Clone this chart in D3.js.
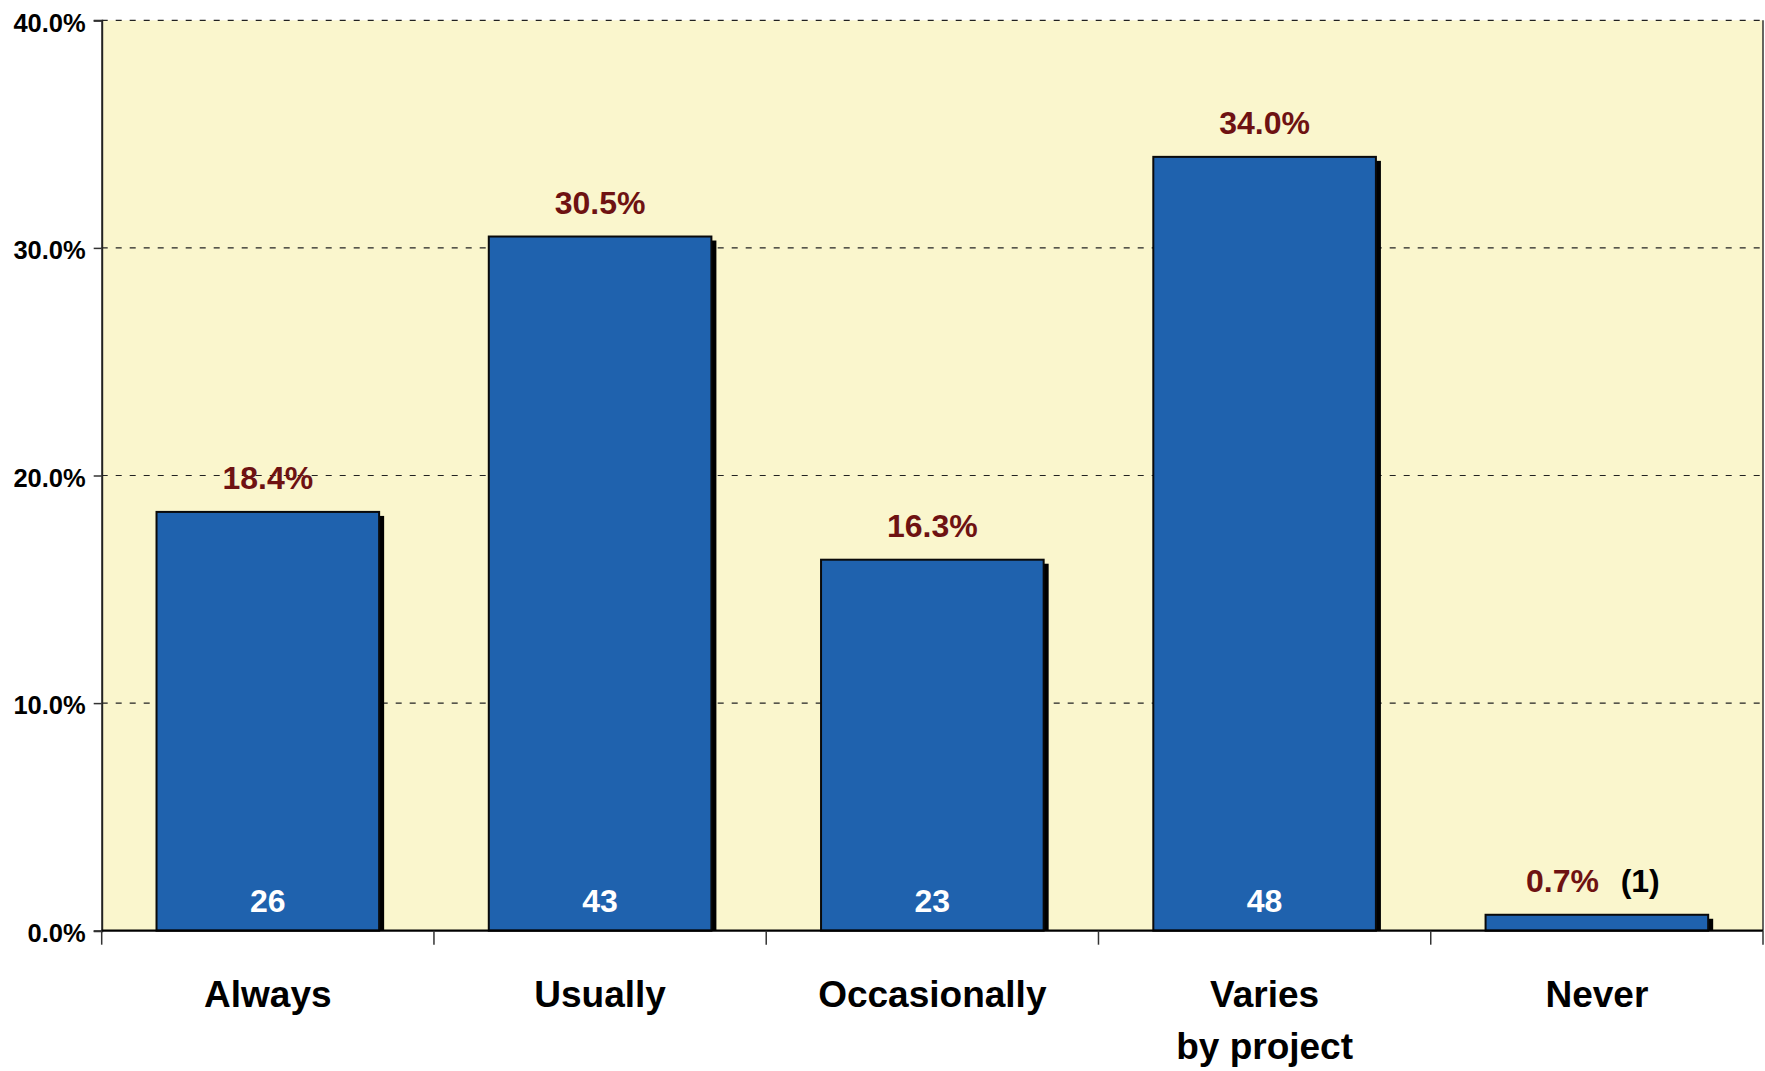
<!DOCTYPE html>
<html>
<head>
<meta charset="utf-8">
<script src="https://cdn.jsdelivr.net/npm/d3@7"></script>
<style>
  html, body { margin: 0; padding: 0; background: #ffffff; }
  svg { display: block; font-family: "Liberation Sans", Arial, sans-serif; }
</style>
</head>
<body>
<svg id="chart" width="1765" height="1071"></svg>
<script>
const categories = [["Always"], ["Usually"], ["Occasionally"], ["Varies", "by project"], ["Never"]];
const percents = [18.4, 30.5, 16.3, 34.0, 0.7];
const counts = [26, 43, 23, 48, 1];
const yTicks = [0, 10, 20, 30, 40];

const svg = d3.select("#chart");
const mLeft = 101.7, mRight = 1763, mTop = 20.3, mBottom = 930.7;

const x = d3.scaleBand().domain(d3.range(categories.length)).range([mLeft, mRight]).padding(0);
const y = d3.scaleLinear().domain([0, 40]).range([mBottom, mTop]);
const barW = x.bandwidth() * 0.67;

// plot background
svg.append("rect").attr("x", mLeft).attr("y", mTop).attr("width", mRight - mLeft).attr("height", mBottom - mTop)
  .attr("fill", "#FAF6CD");

// gridlines
svg.append("g").selectAll("line").data(yTicks.filter(d => d > 0)).join("line")
  .attr("x1", mLeft).attr("x2", mRight).attr("y1", d => y(d)).attr("y2", d => y(d))
  .attr("stroke", "#222").attr("stroke-width", 1.2).attr("stroke-dasharray", "6,8");

// right border
svg.append("line").attr("x1", mRight).attr("x2", mRight).attr("y1", mTop).attr("y2", mBottom)
  .attr("stroke", "#333").attr("stroke-width", 1.5);

// bars: shadow then bar
const bars = svg.append("g");
bars.selectAll("rect.shadow").data(percents).join("rect").attr("class", "shadow")
  .attr("x", (d, i) => x(i) + (x.bandwidth() - barW) / 2 + 5)
  .attr("y", d => y(d) + 4)
  .attr("width", barW)
  .attr("height", d => mBottom - y(d) - 4)
  .attr("fill", "#000");
bars.selectAll("rect.bar").data(percents).join("rect").attr("class", "bar")
  .attr("x", (d, i) => x(i) + (x.bandwidth() - barW) / 2)
  .attr("y", d => y(d))
  .attr("width", barW)
  .attr("height", d => mBottom - y(d))
  .attr("fill", "#1F62AE").attr("stroke", "#0a0a0a").attr("stroke-width", 2);

// y axis
const yAxis = svg.append("g").attr("transform", `translate(${mLeft},0)`)
  .call(d3.axisLeft(y).tickValues(yTicks).tickSize(8).tickPadding(8).tickFormat(d => d3.format(".1f")(d) + "%"));
yAxis.select(".domain").attr("stroke", "#222").attr("stroke-width", 2);
yAxis.selectAll(".tick line").attr("stroke", "#333").attr("stroke-width", 1.5);
yAxis.selectAll(".tick text").attr("font-size", 25.5).attr("font-weight", "bold").attr("fill", "#000")
  .attr("font-family", "Liberation Sans, Arial, sans-serif").attr("dy", "0.42em");

// x axis line + ticks at boundaries
svg.append("line").attr("x1", mLeft).attr("x2", mRight).attr("y1", mBottom).attr("y2", mBottom)
  .attr("stroke", "#000").attr("stroke-width", 2.2);
const bounds = d3.range(categories.length).map(i => x(i)).concat([mRight]);
svg.append("g").selectAll("line").data(bounds).join("line")
  .attr("x1", d => d).attr("x2", d => d).attr("y1", mBottom).attr("y2", mBottom + 14)
  .attr("stroke", "#333").attr("stroke-width", 1.5);

// category labels
const cat = svg.append("g").selectAll("text").data(categories).join("text")
  .attr("x", (d, i) => x(i) + x.bandwidth() / 2)
  .attr("y", 1007)
  .attr("text-anchor", "middle").attr("font-size", 37).attr("font-weight", "bold").attr("fill", "#000");
cat.selectAll("tspan").data(d => d).join("tspan")
  .attr("x", function() { return d3.select(this.parentNode).attr("x"); })
  .attr("dy", (d, j) => j === 0 ? 0 : 52)
  .text(d => d);

// percent labels
const pl = svg.append("g").selectAll("text").data(percents).join("text")
  .attr("x", (d, i) => x(i) + x.bandwidth() / 2 + (i === 4 ? -4 : 0))
  .attr("y", d => y(d) - 23)
  .attr("text-anchor", "middle").attr("font-size", 32).attr("font-weight", "bold");
pl.append("tspan").attr("fill", "#6E1212").text(d => d3.format(".1f")(d) + "%");
pl.filter((d, i) => i === 4).append("tspan").attr("fill", "#000").attr("dx", 21.7)
  .text(() => "(" + counts[4] + ")");

// count labels inside bars
svg.append("g").selectAll("text").data(counts.slice(0, 4)).join("text")
  .attr("x", (d, i) => x(i) + x.bandwidth() / 2)
  .attr("y", mBottom - 19)
  .attr("text-anchor", "middle").attr("font-size", 32).attr("font-weight", "bold").attr("fill", "#fff")
  .text(d => d);
</script>
</body>
</html>
